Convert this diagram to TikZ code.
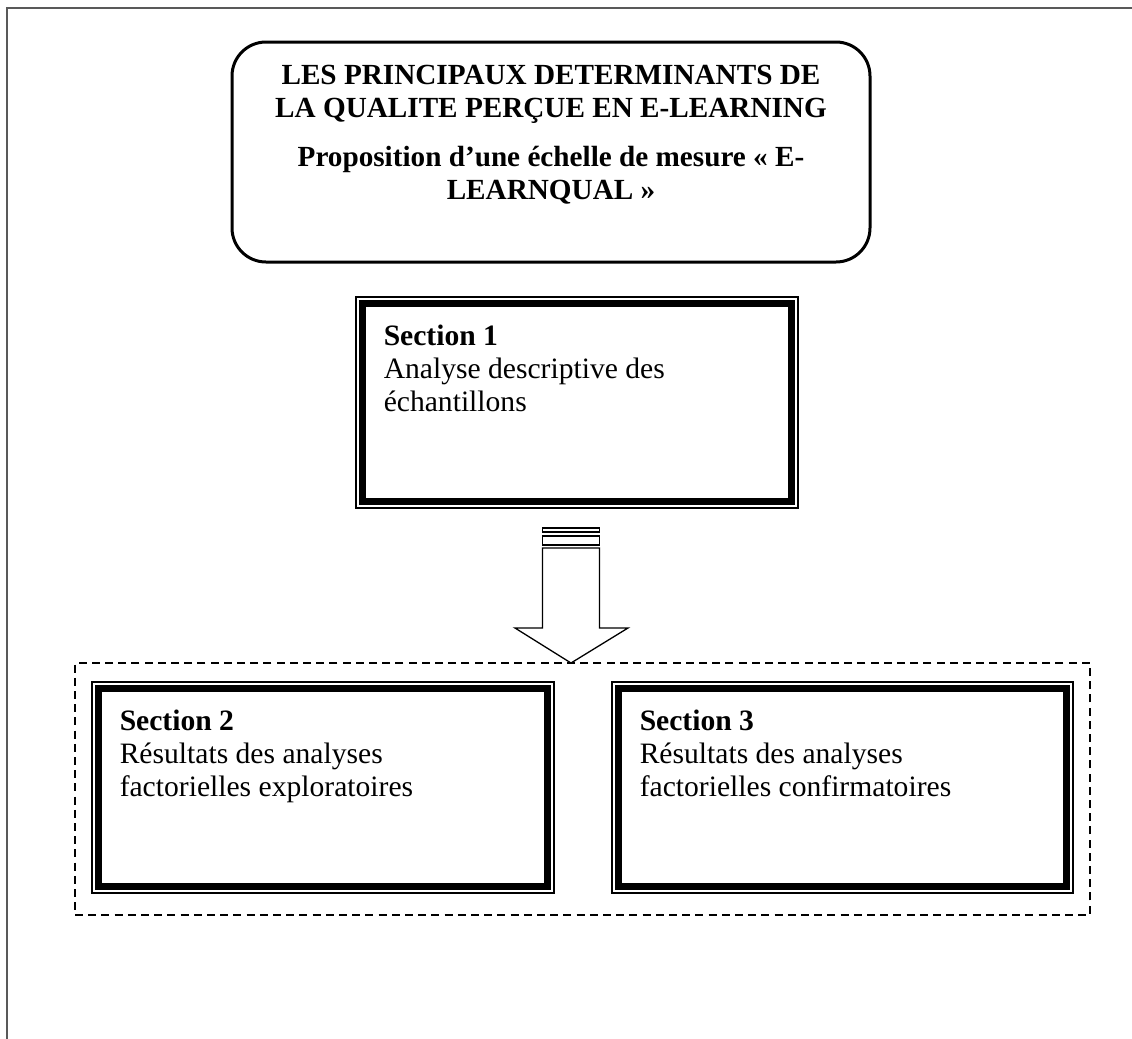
\documentclass[tikz,border=0pt]{standalone}
\usepackage{fontspec}
\setmainfont{Liberation Serif}
\usetikzlibrary{fit,calc}

\begin{document}
\begin{tikzpicture}[
  x=0.5pt, y=-0.5pt,
  titlebox/.style={draw, line width=1.5pt, rounded corners=17pt, inner sep=0pt},
  sectbox/.style={draw, line width=0.65pt, inner sep=0pt,
    path picture={\draw[line width=3.5pt]
      ([shift={(3.25pt,-3.25pt)}]path picture bounding box.north west) rectangle
      ([shift={(-3.25pt,3.25pt)}]path picture bounding box.south east);}},
  grpbox/.style={draw, dashed, dash pattern=on 4pt off 2.6pt, line width=0.6pt, inner sep=0pt},
  sectlbl/.style={anchor=north west, align=left, inner sep=0pt, font=\fontsize{14.8pt}{16.6pt}\selectfont},
  titlelbl/.style={align=center, inner sep=0pt, font=\fontsize{14.6pt}{16.5pt}\selectfont\bfseries},
  bigarrow/.style={draw, line width=0.65pt, fill=white}
]
\useasboundingbox (0,0) rectangle (1132,1039);
\draw[gray!70!black, line width=1pt] (7,1039) -- (7,8) -- (1132,8);

% title
\node[titlebox, fit={(232,42) (870,262)}] (title) {};
\node[titlelbl] (titletxt) at (551,135)
  {LES PRINCIPAUX DETERMINANTS DE\\
   LA QUALITE PERÇUE EN E-LEARNING\\[8pt]
   Proposition d’une échelle de mesure « E-\\
   LEARNQUAL »};

% sections
\node[sectbox, fit={(356,297) (798,508)}] (sec1) {};
\node[sectlbl] (sec1txt) at ($(sec1.north west)+(28,28)$)
  {\textbf{Section 1}\\Analyse descriptive des\\échantillons};

\node[grpbox, fit={(75,663) (1090,915)}] (grp) {};
\node[sectbox, fit={(92,682) (554,893)}] (sec2) {};
\node[sectlbl] (sec2txt) at ($(sec2.north west)+(28,28)$)
  {\textbf{Section 2}\\Résultats des analyses\\factorielles exploratoires};
\node[sectbox, fit={(612,682) (1073,893)}] (sec3) {};
\node[sectlbl] (sec3txt) at ($(sec3.north west)+(28,28)$)
  {\textbf{Section 3}\\Résultats des analyses\\factorielles confirmatoires};

% arrow sec1 -> group
\coordinate (arrtop) at (571,528);
\coordinate (arrtip) at (571,663);
\draw[bigarrow] ($(arrtop)+(-28.5,0)$) rectangle ($(arrtop)+(28.5,4)$);
\draw[bigarrow] ($(arrtop)+(-28.5,8)$) rectangle ($(arrtop)+(28.5,17)$);
\draw[bigarrow] ($(arrtop)+(-28.5,20)$) -- ($(arrtip)+(-28.5,-35)$)
  -- ($(arrtip)+(-56,-35)$) -- (arrtip) -- ($(arrtip)+(57,-35)$)
  -- ($(arrtip)+(28.5,-35)$) -- ($(arrtop)+(28.5,20)$) -- cycle;
\end{tikzpicture}
\end{document}
